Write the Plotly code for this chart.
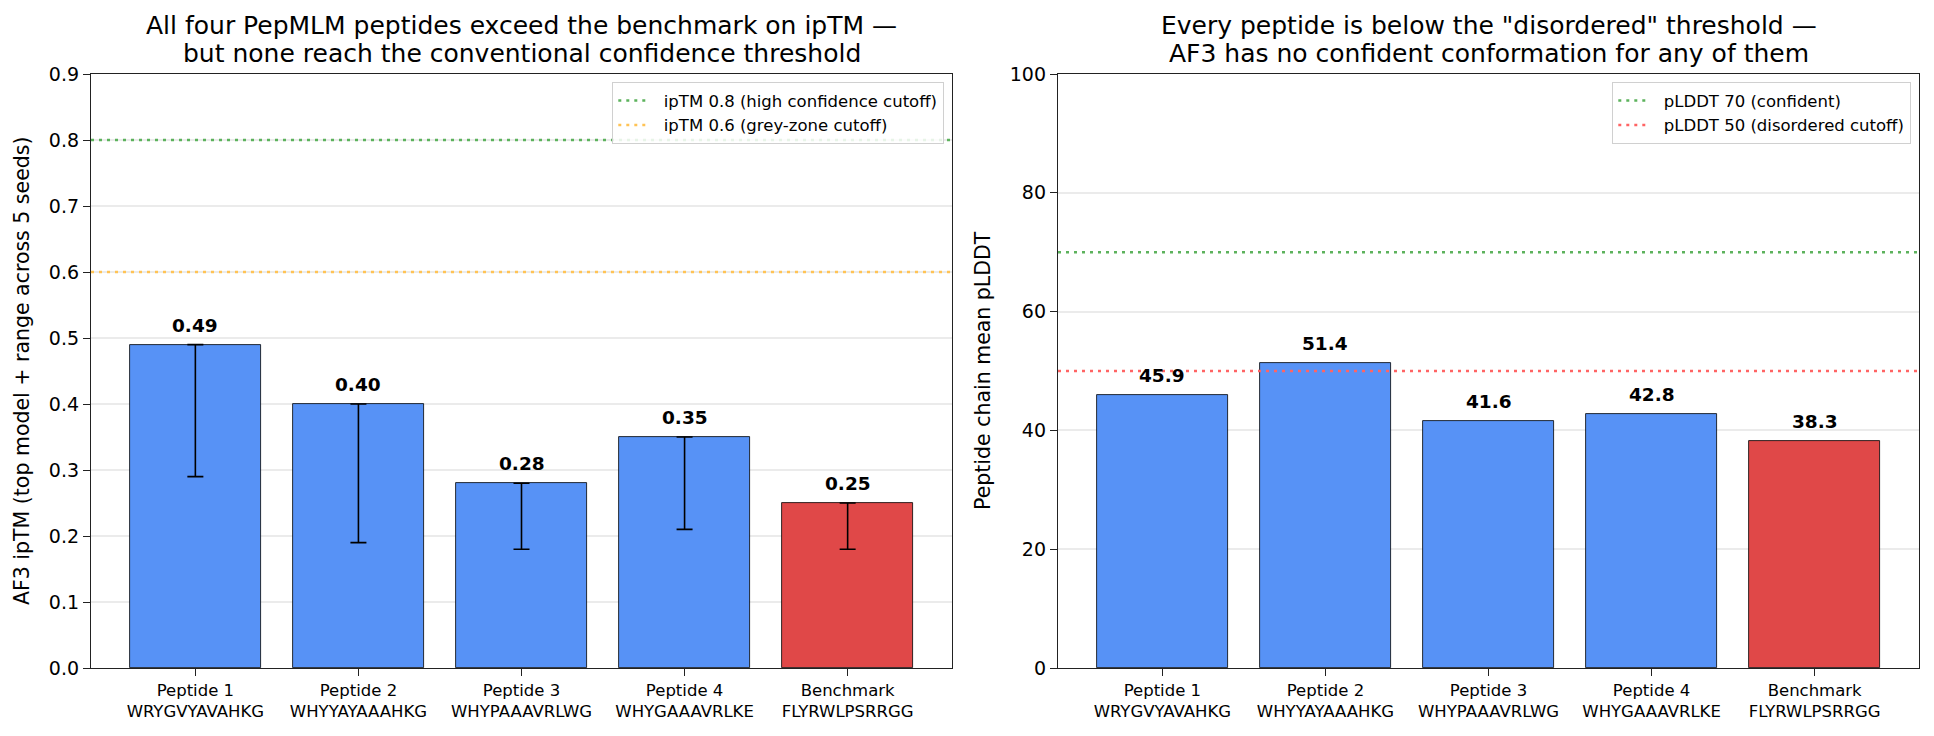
import plotly.graph_objects as go

# ---------------- data ----------------
categories = ["Peptide 1", "Peptide 2", "Peptide 3", "Peptide 4", "Benchmark"]
sequences = ["WRYGVYAVAHKG", "WHYYAYAAAHKG", "WHYPAAAVRLWG", "WHYGAAAVRLKE", "FLYRWLPSRRGG"]
iptm_top = [0.49, 0.40, 0.28, 0.35, 0.25]
iptm_min = [0.29, 0.19, 0.18, 0.21, 0.18]
iptm_max = [0.49, 0.40, 0.28, 0.35, 0.25]
plddt = [45.9, 51.4, 41.6, 42.8, 38.3]
iptm_thresholds = [0.8, 0.6]
iptm_threshold_names = ["ipTM 0.8 (high confidence cutoff)", "ipTM 0.6 (grey-zone cutoff)"]
plddt_thresholds = [70, 50]
plddt_threshold_names = ["pLDDT 70 (confident)", "pLDDT 50 (disordered cutoff)"]
left_title = ["All four PepMLM peptides exceed the benchmark on ipTM —",
              "but none reach the conventional confidence threshold"]
right_title = ["Every peptide is below the \"disordered\" threshold —",
               "AF3 has no confident conformation for any of them"]

BLUE = "rgb(87,146,246)"
RED = "rgb(224,72,72)"
GREEN_L = "rgb(92,178,92)"
ORANGE_L = "rgb(255,195,85)"
RED_L = "rgb(255,100,100)"
FONT = "DejaVu Sans"
GAP = "\u00a0\u00a0"  # extra space between legend sample and text

x_idx = list(range(len(categories)))
bar_colors = [BLUE, BLUE, BLUE, BLUE, RED]
tick_text = [f"{c}<br>{s}" for c, s in zip(categories, sequences)]
XR = [-0.64, 4.64]

fig = go.Figure()

# left bars with range error bars
fig.add_trace(go.Bar(
    x=x_idx, y=iptm_top, width=0.8, xaxis="x", yaxis="y",
    marker=dict(color=bar_colors, line=dict(color="black", width=0.8)),
    error_y=dict(type="data", symmetric=False,
                 array=[mx - t for mx, t in zip(iptm_max, iptm_top)],
                 arrayminus=[t - mn for t, mn in zip(iptm_top, iptm_min)],
                 color="black", thickness=1.6, width=8),
    showlegend=False, hoverinfo="skip"))

# right bars
fig.add_trace(go.Bar(
    x=x_idx, y=plddt, width=0.8, xaxis="x2", yaxis="y2",
    marker=dict(color=bar_colors, line=dict(color="black", width=0.8)),
    showlegend=False, hoverinfo="skip"))

# threshold lines
for val, name, col in zip(iptm_thresholds, iptm_threshold_names, [GREEN_L, ORANGE_L]):
    fig.add_trace(go.Scatter(x=XR, y=[val, val], mode="lines", name=GAP + name,
                             xaxis="x", yaxis="y", legend="legend",
                             line=dict(color=col, width=2.5, dash="3px,5px"),
                             hoverinfo="skip"))
for val, name, col in zip(plddt_thresholds, plddt_threshold_names, [GREEN_L, RED_L]):
    fig.add_trace(go.Scatter(x=XR, y=[val, val], mode="lines", name=GAP + name,
                             xaxis="x2", yaxis="y2", legend="legend2",
                             line=dict(color=col, width=2.5, dash="3px,5px"),
                             hoverinfo="skip"))

W, H = 1934, 736
def px_x(p):
    return p / W
def px_y(p):
    return 1 - p / H

dom_y = [px_y(668), px_y(74)]
axis_common = dict(showline=True, mirror=True, linecolor="#222", linewidth=1.3,
                   ticks="outside", ticklen=7, tickwidth=1.2, tickcolor="#222",
                   zeroline=False, automargin=False)

annotations = []
# value labels
for i, v in enumerate(iptm_max):
    annotations.append(dict(x=i, y=v, xref="x", yref="y", text=f"<b>{iptm_top[i]:.2f}</b>",
                            showarrow=False, yanchor="bottom", yshift=7,
                            font=dict(family=FONT, size=18.5, color="black")))
for i, v in enumerate(plddt):
    annotations.append(dict(x=i, y=v, xref="x2", yref="y2", text=f"<b>{v:.1f}</b>",
                            showarrow=False, yanchor="bottom", yshift=7,
                            font=dict(family=FONT, size=18.5, color="black")))
# titles (one annotation per line)
for cx, lines in [(521.5, left_title), (1488.5, right_title)]:
    for ly, line in zip([26, 53], lines):
        annotations.append(dict(x=px_x(cx), y=px_y(ly), xref="paper", yref="paper",
                                text=line, showarrow=False, xanchor="center", yanchor="middle",
                                font=dict(family=FONT, size=25, color="black")))
# y-axis titles
annotations.append(dict(x=px_x(22), y=px_y(371), xref="paper", yref="paper",
                        text="AF3 ipTM (top model + range across 5 seeds)", textangle=-90,
                        showarrow=False, xanchor="center", yanchor="middle",
                        font=dict(family=FONT, size=20.5, color="black")))
annotations.append(dict(x=px_x(983), y=px_y(371), xref="paper", yref="paper",
                        text="Peptide chain mean pLDDT", textangle=-90,
                        showarrow=False, xanchor="center", yanchor="middle",
                        font=dict(family=FONT, size=20.5, color="black")))

legend_common = dict(bgcolor="rgba(255,255,255,0.85)", bordercolor="#d0d0d0", borderwidth=1.3,
                     font=dict(family=FONT, size=16.5, color="black"),
                     xanchor="right", yanchor="top", itemwidth=30, tracegroupgap=0)

fig.update_layout(
    width=W, height=H, margin=dict(l=0, r=0, t=0, b=0, autoexpand=False),
    paper_bgcolor="white", plot_bgcolor="white",
    font=dict(family=FONT, size=19, color="black"),
    bargap=0,
    xaxis=dict(domain=[px_x(91), px_x(952)], range=XR, tickvals=x_idx, ticktext=tick_text,
               tickfont=dict(family=FONT, size=16.5), showgrid=False, anchor="y", **axis_common),
    yaxis=dict(domain=dom_y, range=[0, 0.9], tickvals=[i / 10 for i in range(10)],
               tickformat=".1f", showgrid=True, gridcolor="#ebebeb", gridwidth=1.5,
               tickfont=dict(family=FONT, size=19), anchor="x", **axis_common),
    xaxis2=dict(domain=[px_x(1058), px_x(1919)], range=XR, tickvals=x_idx, ticktext=tick_text,
                tickfont=dict(family=FONT, size=16.5), showgrid=False, anchor="y2", **axis_common),
    yaxis2=dict(domain=dom_y, range=[0, 100], tickvals=[0, 20, 40, 60, 80, 100],
                showgrid=True, gridcolor="#ebebeb", gridwidth=1.5,
                tickfont=dict(family=FONT, size=19), anchor="x2", **axis_common),
    legend=dict(x=px_x(944), y=px_y(82), **legend_common),
    legend2=dict(x=px_x(1911), y=px_y(82), **legend_common),
    annotations=annotations,
)

fig.write_html("out.html")
